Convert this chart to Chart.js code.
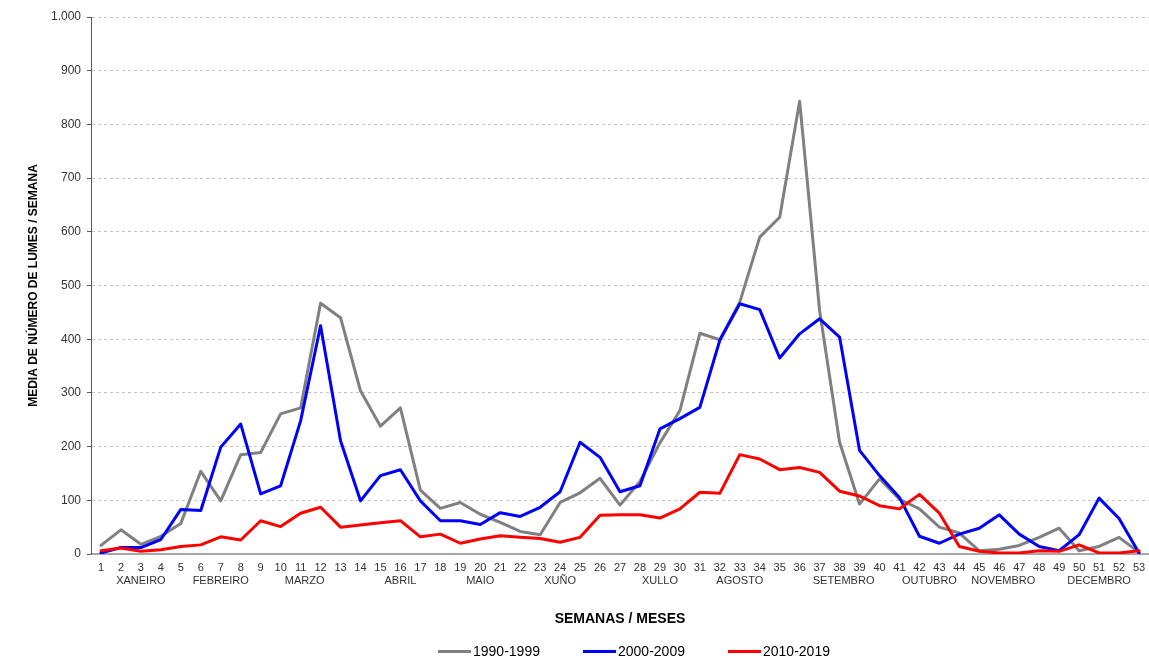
<!DOCTYPE html>
<html>
<head>
<meta charset="utf-8">
<title>Media de número de lumes por semana</title>
<script src="https://cdn.jsdelivr.net/npm/chart.js@4/dist/chart.umd.min.js"></script>
<style>
  html, body { margin: 0; padding: 0; background: #ffffff; }
  #wrap { position: relative; width: 1149px; height: 659px; }
  #legend {
    position: absolute; left: 438px; top: 643px;
    display: flex;
    font: 14px "Liberation Sans", Arial, sans-serif;
    line-height: 17px; color: #000000;
  }
  .legend_item { display: flex; align-items: center; width: 145px; }
  .legend_line { width: 33px; height: 3px; margin-right: 2px; }
</style>
</head>
<body>
<div id="wrap">
  <canvas id="fires_chart"></canvas>
  <div id="legend"></div>
</div>
<script>
var fires_chart;

const weeks = [
  1, 2, 3, 4, 5, 6, 7, 8, 9, 10,
  11, 12, 13, 14, 15, 16, 17, 18, 19, 20,
  21, 22, 23, 24, 25, 26, 27, 28, 29, 30,
  31, 32, 33, 34, 35, 36, 37, 38, 39, 40,
  41, 42, 43, 44, 45, 46, 47, 48, 49, 50,
  51, 52, 53];

// Month names sit under the middle of their weeks
const month_names = [
  "XANEIRO", "FEBREIRO", "MARZO", "ABRIL", "MAIO", "XUÑO",
  "XULLO", "AGOSTO", "SETEMBRO", "OUTUBRO", "NOVEMBRO", "DECEMBRO"];
const month_weeks = [3, 7, 11.2, 16, 20, 24, 29, 33, 38.2, 42.5, 46.2, 51];

const series_labels = ["1990-1999", "2000-2009", "2010-2019"];
const series_colors = ["#808080", "#0000ff", "#ff0000"];

const values_1990 = [
  16, 45, 18, 33, 57, 154, 99, 185, 189, 261,
  272, 467, 440, 304, 238, 272, 119, 85, 96, 74,
  59, 42, 36, 96, 114, 141, 91, 135, 207, 267,
  411, 399, 469, 590, 627, 843, 453, 208, 93, 140,
  102, 84, 50, 39, 6, 9, 16, 31, 48, 6,
  14, 31, 3];

const values_2000 = [
  2, 12, 12, 27, 83, 81, 199, 242, 112, 127,
  248, 425, 211, 99, 146, 157, 99, 62, 62, 55,
  77, 70, 87, 116, 208, 180, 116, 127, 233, 252,
  273, 398, 466, 455, 365, 410, 438, 404, 193, 146,
  105, 33, 20, 37, 48, 73, 37, 14, 6, 36,
  104, 66, 2];

const values_2010 = [
  6, 11, 5, 8, 14, 17, 32, 26, 62, 51,
  76, 87, 50, 54, 58, 62, 32, 37, 20, 28,
  34, 31, 29, 22, 31, 72, 73, 73, 67, 84,
  115, 113, 185, 177, 157, 161, 152, 117, 108, 90,
  84, 111, 76, 14, 5, 2, 2, 6, 5, 17,
  2, 2, 6];

const y_max = 1000;
const y_step = 100;

function format_thousands(value) {
  // Galician style: dot as thousands separator
  return String(value).replace(/\B(?=(\d{3})+(?!\d))/g, ".");
}

function build_legend() {
  var legend = document.getElementById('legend');
  series_labels.forEach(function (label, i) {
    var item = document.createElement('div');
    item.className = 'legend_item';
    var line = document.createElement('span');
    line.className = 'legend_line';
    line.style.background = series_colors[i];
    var text = document.createElement('span');
    text.textContent = label;
    item.appendChild(line);
    item.appendChild(text);
    legend.appendChild(item);
  });
}

function make_dataset(index, values, order) {
  return {
    label: series_labels[index],
    data: values,
    borderColor: series_colors[index],
    backgroundColor: series_colors[index],
    borderWidth: 3,
    borderJoinStyle: 'round',
    borderCapStyle: 'round',
    pointRadius: 0,
    tension: 0,
    fill: false,
    order: order // red drawn on top, grey at the back
  };
}

function contentLoaded() {
  Chart.defaults.font.family = '"Liberation Sans", Arial, sans-serif';
  Chart.defaults.color = '#333333';

  build_legend();

  fires_chart = new Chart(
    document.getElementById('fires_chart'),
    {
      type: 'line',
      data: {
        labels: weeks,
        datasets: [
          make_dataset(0, values_1990, 3),
          make_dataset(1, values_2000, 2),
          make_dataset(2, values_2010, 1)
        ]
      },
      options: {
        responsive: true,
        maintainAspectRatio: false,
        animation: false,
        events: [],
        layout: {
          padding: { top: 17, right: 0, bottom: 31, left: 0 }
        },
        plugins: {
          legend: { display: false },
          tooltip: { enabled: false }
        },
        scales: {
          x: {
            type: 'category',
            offset: true,
            afterFit: function (scale) {
              scale.height = 20;
              // plot runs right up to the canvas edge
              scale.paddingLeft = 0;
              scale.paddingRight = 0;
            },
            grid: { display: false, drawTicks: false },
            border: { display: true, color: '#a6a6a6', width: 2 },
            ticks: {
              autoSkip: false,
              maxRotation: 0,
              padding: 7,
              font: { size: 11 }
            }
          },
          months: {
            type: 'linear',
            position: 'bottom',
            min: 0.5,
            max: 53.5,
            afterFit: function (scale) {
              scale.height = 54;
              scale.paddingLeft = 0;
              scale.paddingRight = 0;
            },
            grid: { display: false, drawTicks: false },
            border: { display: false },
            afterBuildTicks: function (scale) {
              scale.ticks = month_weeks.map(function (w) { return { value: w }; });
            },
            ticks: {
              autoSkip: false,
              maxRotation: 0,
              padding: 0,
              font: { size: 11 },
              callback: function (value, index) { return month_names[index]; }
            },
            title: {
              display: true,
              text: 'SEMANAS / MESES',
              color: '#000000',
              font: { size: 14, weight: 'bold' },
              padding: { top: 24, bottom: 0 }
            }
          },
          y: {
            min: 0,
            max: y_max,
            afterFit: function (scale) { scale.width = 91; },
            grid: {
              color: '#c4c4c4',
              tickLength: 4,
              tickColor: '#595959'
            },
            border: { display: true, color: '#595959', width: 1, dash: [3, 3] },
            ticks: {
              stepSize: y_step,
              padding: 6,
              font: { size: 12 },
              callback: function (value) { return format_thousands(value); }
            },
            title: {
              display: true,
              text: 'MEDIA DE NÚMERO DE LUMES / SEMANA',
              color: '#000000',
              font: { size: 12, weight: 'bold' },
              padding: { top: 26, bottom: 0 }
            }
          }
        }
      }
    });
}

document.addEventListener('DOMContentLoaded', contentLoaded, false);
</script>
</body>
</html>
